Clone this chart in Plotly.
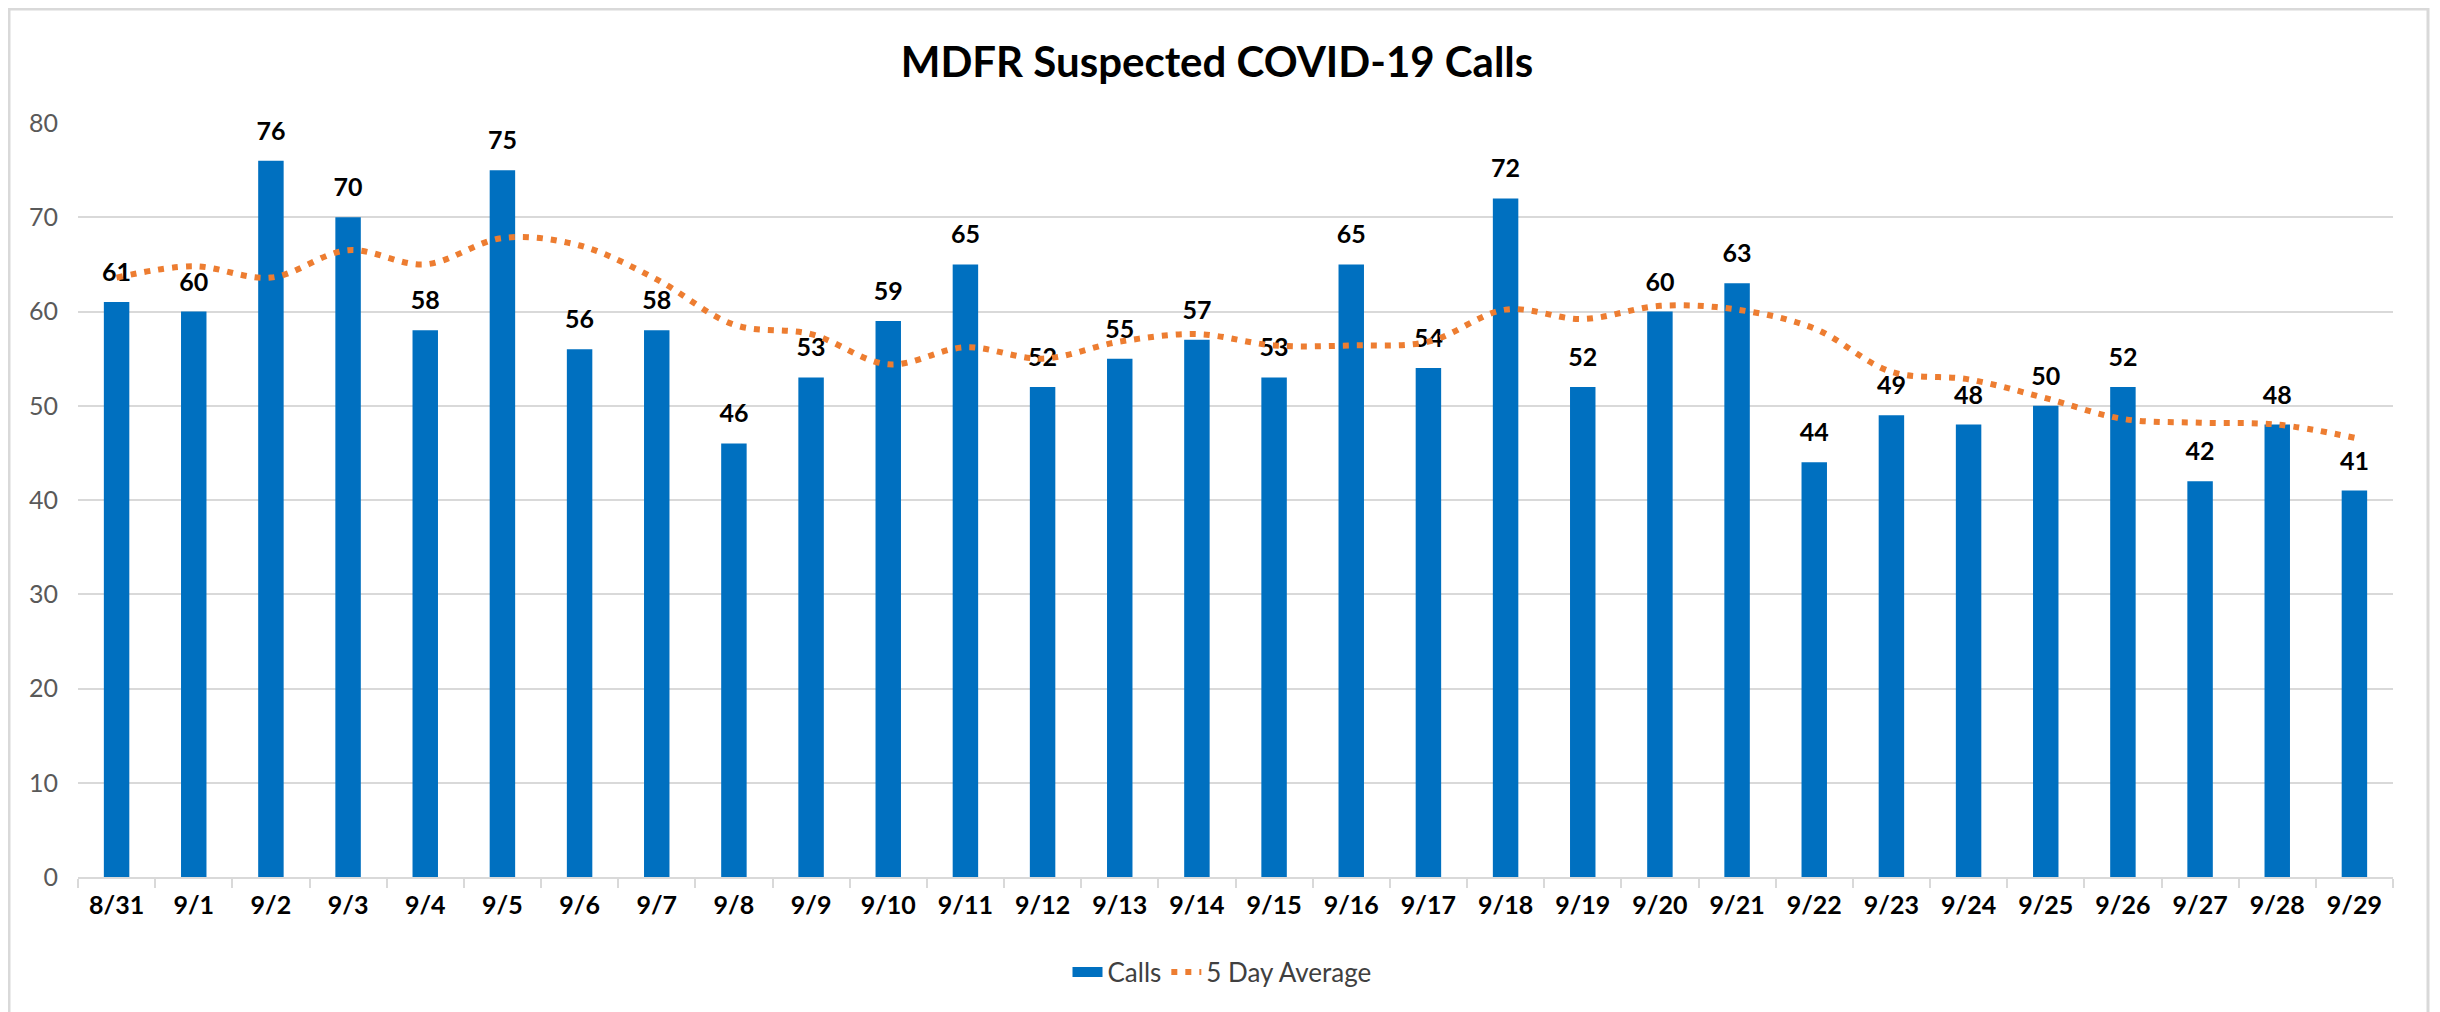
import plotly.graph_objects as go

dates = ["8/31", "9/1", "9/2", "9/3", "9/4", "9/5", "9/6", "9/7", "9/8", "9/9",
         "9/10", "9/11", "9/12", "9/13", "9/14", "9/15", "9/16", "9/17", "9/18", "9/19",
         "9/20", "9/21", "9/22", "9/23", "9/24", "9/25", "9/26", "9/27", "9/28", "9/29"]
calls = [61, 60, 76, 70, 58, 75, 56, 58, 46, 53,
         59, 65, 52, 55, 57, 53, 65, 54, 72, 52,
         60, 63, 44, 49, 48, 50, 52, 42, 48, 41]
avg5 = [63.6, 64.8, 63.6, 66.5, 65.0, 67.8, 67.0, 63.4, 58.6, 57.6,
        54.4, 56.2, 55.0, 56.8, 57.6, 56.4, 56.4, 56.8, 60.2, 59.2,
        60.6, 60.2, 58.2, 53.6, 52.8, 50.8, 48.6, 48.2, 48.0, 46.6]
y_ticks = [0, 10, 20, 30, 40, 50, 60, 70, 80]

FONT = "Lato, 'Open Sans', sans-serif"
OFF = 8  # page body margin
W, H = 2440 - OFF, 1012 - OFF
ML = 78 - OFF
MT = 123 - OFF
PR = 2393 - OFF
PB = 877 - OFF
MR = W - PR
MB = H - PB
PW, PH = PR - ML, PB - MT

BLUE = "#0070C0"
ORANGE = "#ED7D31"

fig = go.Figure()
fig.add_trace(go.Bar(
    x=dates, y=calls, name="Calls", showlegend=False,
    marker=dict(color=BLUE, line=dict(width=0)),
    hoverinfo="x+y",
))
# data labels above bars
fig.add_trace(go.Scatter(
    x=dates, y=calls, mode="markers+text", showlegend=False,
    marker=dict(size=22, opacity=0, color=BLUE),
    text=[str(v) for v in calls], textposition="top center",
    textfont=dict(family=FONT, size=25, color="#000000", weight="bold"),
    cliponaxis=False, hoverinfo="skip",
))
# legend entry for Calls (wide blue swatch)
fig.add_trace(go.Scatter(
    x=[dates[0]], y=[None], mode="lines", name="Calls",
    line=dict(color=BLUE, width=14),
))
fig.add_trace(go.Scatter(
    x=dates, y=avg5, name="5 Day Average", mode="lines",
    line=dict(color=ORANGE, width=6, dash="6px,8px", shape="spline", smoothing=1),
))

fig.add_shape(type="rect", xref="paper", yref="paper",
              x0=(1 - ML) / PW, x1=(2428 - OFF - ML) / PW,
              y0=(PB - 1030) / PH, y1=(PB - 1) / PH,
              line=dict(color="#D9D9D9", width=3), fillcolor="rgba(0,0,0,0)", layer="below")

fig.update_layout(
    width=W, height=H,
    margin=dict(l=ML, r=MR, t=MT, b=MB),
    paper_bgcolor="white", plot_bgcolor="white",
    title=dict(text="<b>MDFR Suspected COVID-19 Calls</b>", x=(1217 - OFF) / W, xanchor="center",
               y=1 - (62 - OFF) / H, yanchor="middle",
               font=dict(family=FONT, size=42, color="#000000")),
    bargap=0.67,
    showlegend=True,
    legend=dict(orientation="h", x=(1222 - OFF - ML) / PW, xanchor="center",
                y=(PB - (972 - OFF)) / PH, yanchor="middle",
                font=dict(family=FONT, size=26, color="#404040"),
                bgcolor="rgba(0,0,0,0)", traceorder="normal"),
    xaxis=dict(type="category", categoryorder="array", categoryarray=dates,
               range=[-0.5, len(dates) - 0.5], autorange=False,
               showgrid=False, showline=True, linecolor="#D9D9D9", linewidth=2,
               ticks="outside", tickson="boundaries", ticklen=9, tickcolor="#D9D9D9", tickwidth=2,
               tickfont=dict(family=FONT, size=25, color="#000000", weight="bold"),
               ticklabelstandoff=5),
    yaxis=dict(range=[0, 80], tickvals=y_ticks, showgrid=True, gridcolor="#D9D9D9", gridwidth=2,
               zeroline=False, showline=False, ticks="",
               tickfont=dict(family=FONT, size=25, color="#595959"),
               ticklabelstandoff=19),
)

fig.write_html("out.html")
